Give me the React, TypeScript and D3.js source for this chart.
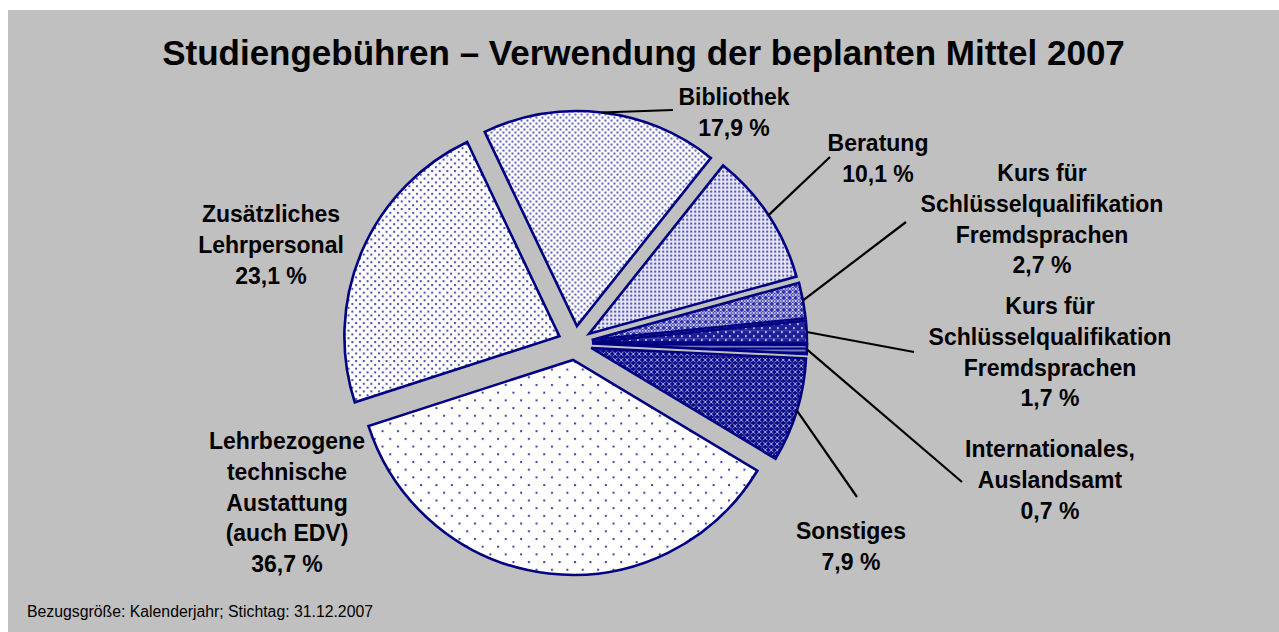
import React from 'react';
import * as d3 from 'd3';

// ---------- data ----------
const categories: string[] = [
  'Bibliothek',
  'Beratung',
  'Kurs für Schlüsselqualifikation Fremdsprachen',
  'Kurs für Schlüsselqualifikation Fremdsprachen',
  'Internationales, Auslandsamt',
  'Sonstiges',
  'Lehrbezogene technische Austattung (auch EDV)',
  'Zusätzliches Lehrpersonal',
];
const values: number[] = [17.9, 10.1, 2.7, 1.7, 0.7, 7.9, 36.7, 23.1];
const valueLabels: string[] = ['17,9 %', '10,1 %', '2,7 %', '1,7 %', '0,7 %', '7,9 %', '36,7 %', '23,1 %'];
const nameLines: string[][] = [
  ['Bibliothek'],
  ['Beratung'],
  ['Kurs für', 'Schlüsselqualifikation', 'Fremdsprachen'],
  ['Kurs für', 'Schlüsselqualifikation', 'Fremdsprachen'],
  ['Internationales,', 'Auslandsamt'],
  ['Sonstiges'],
  ['Lehrbezogene', 'technische', 'Austattung', '(auch EDV)'],
  ['Zusätzliches', 'Lehrpersonal'],
];
const title = 'Studiengebühren – Verwendung der beplanten Mittel 2007';
const footnote = 'Bezugsgröße: Kalenderjahr; Stichtag: 31.12.2007';

// ---------- layout ----------
const W = 1279;
const H = 632;
const CX = 575;
const CY = 343;
const R = 215;
const EXPLODE = 17;
const START_DEG = -25.4;
const LINE_H = 30.8;
const patternIds = ['pBib', 'pBer', 'pK1', 'pK2', 'pInt', 'pSon', 'pLehr', 'pZus'];
// label center x, first baseline y
const labelPos: [number, number][] = [
  [734, 105],
  [878, 151],
  [1042, 181],
  [1050, 314],
  [1050, 457],
  [851, 539],
  [287, 449],
  [271, 222],
];
// leader end points (null: no leader)
const leaderEnd: ([number, number] | null)[] = [
  [673, 110],
  [830, 157],
  [906, 222],
  [914, 352],
  [962, 482],
  [857, 497],
  null,
  null,
];

const navy = '#000080';
const dot = '#1c1c96';

export default function App() {
  const pie = d3
    .pie<number>()
    .sort(null)
    .value((d) => d)
    .startAngle((START_DEG * Math.PI) / 180)
    .endAngle(((START_DEG + 360) * Math.PI) / 180);
  const arcs = pie(values);
  const arc = d3.arc<d3.PieArcDatum<number>>().innerRadius(0).outerRadius(R);

  return (
    <svg
      width={W}
      height={H}
      style={{ position: 'absolute', left: 0, top: 0, display: 'block' }}
      fontFamily="'Liberation Sans', Arial, sans-serif"
    >
      <defs>
        <pattern id="pBib" width={6} height={6} patternUnits="userSpaceOnUse">
          <rect width={6} height={6} fill="#fff" />
          <rect x={0.5} y={0.5} width={2} height={2} fill={dot} opacity={0.75} />
          <rect x={3.5} y={3.5} width={2} height={2} fill={dot} opacity={0.75} />
        </pattern>
        <pattern id="pBer" width={4} height={4} patternUnits="userSpaceOnUse">
          <rect width={4} height={4} fill="#e4e4f6" />
          <rect x={1} y={1} width={2} height={2} fill={dot} opacity={0.7} />
        </pattern>
        <pattern id="pK1" width={6} height={6} patternUnits="userSpaceOnUse">
          <rect width={6} height={6} fill="#3030a8" />
          <path d="M0,3 L3,0 L6,3 L3,6 Z" fill="none" stroke="#d8d8f4" strokeWidth={1} />
          <rect x={2.2} y={2.2} width={1.6} height={1.6} fill="#fff" />
        </pattern>
        <pattern id="pK2" width={8} height={8} patternUnits="userSpaceOnUse">
          <rect width={8} height={8} fill="#1e1e98" />
          <rect x={1} y={1} width={1.8} height={1.8} fill="#d0d0f2" />
          <rect x={5} y={5} width={1.8} height={1.8} fill="#d0d0f2" />
          <rect x={0} y={4} width={8} height={0.8} fill="#5050b8" />
        </pattern>
        <pattern id="pInt" width={4} height={4} patternUnits="userSpaceOnUse">
          <rect width={4} height={4} fill={navy} />
          <rect y={2.5} width={4} height={1.2} fill="#c8c8f0" />
        </pattern>
        <pattern id="pSon" width={6} height={6} patternUnits="userSpaceOnUse">
          <rect width={6} height={6} fill="#0c0c88" />
          <path d="M0,0 L6,6 M6,0 L0,6" stroke="#a8a8e4" strokeWidth={1} />
          <rect x={2.2} y={2.2} width={1.6} height={1.6} fill={navy} />
        </pattern>
        <pattern id="pLehr" width={15.4} height={15.4} patternUnits="userSpaceOnUse">
          <rect width={15.4} height={15.4} fill="#fff" />
          <rect x={1} y={1} width={2} height={2} fill={dot} opacity={0.85} />
          <rect x={8.7} y={8.7} width={2} height={2} fill={dot} opacity={0.85} />
        </pattern>
        <pattern id="pZus" width={7.6} height={7.6} patternUnits="userSpaceOnUse">
          <rect width={7.6} height={7.6} fill="#fff" />
          <rect x={1} y={1} width={2} height={2} fill={dot} opacity={0.8} />
          <rect x={4.8} y={4.8} width={2} height={2} fill={dot} opacity={0.8} />
        </pattern>
      </defs>

      <rect x={8} y={10} width={W - 8} height={H - 10} fill="#c0c0c0" />

      <text x={643.5} y={65} textAnchor="middle" fontSize={35} fontWeight="bold" fill="#000">
        {title}
      </text>

      {arcs.map((a, i) => {
        const mid = (a.startAngle + a.endAngle) / 2;
        const ox = CX + EXPLODE * Math.sin(mid);
        const oy = CY - EXPLODE * Math.cos(mid);
        return (
          <g key={'s' + i} transform={`translate(${ox},${oy})`}>
            <path
              d={arc(a) || ''}
              fill={`url(#${patternIds[i]})`}
              stroke={navy}
              strokeWidth={2.6}
              strokeLinejoin="miter"
            />
          </g>
        );
      })}

      {arcs.map((a, i) => {
        const end = leaderEnd[i];
        if (!end) return null;
        const mid = (a.startAngle + a.endAngle) / 2;
        const ox = CX + EXPLODE * Math.sin(mid);
        const oy = CY - EXPLODE * Math.cos(mid);
        const sx = ox + R * Math.sin(mid);
        const sy = oy - R * Math.cos(mid);
        return <line key={'l' + i} x1={sx} y1={sy} x2={end[0]} y2={end[1]} stroke="#000" strokeWidth={2.2} />;
      })}

      {categories.map((c, i) => {
        const lines = [...nameLines[i], valueLabels[i]];
        const [lx, ly] = labelPos[i];
        return (
          <text key={'t' + i} textAnchor="middle" fontSize={23} fontWeight="bold" fill="#000">
            {lines.map((ln, j) => (
              <tspan key={j} x={lx} y={ly + j * LINE_H}>
                {ln}
              </tspan>
            ))}
          </text>
        );
      })}

      <text x={27} y={617} fontSize={15.8} fill="#000">
        {footnote}
      </text>
    </svg>
  );
}
